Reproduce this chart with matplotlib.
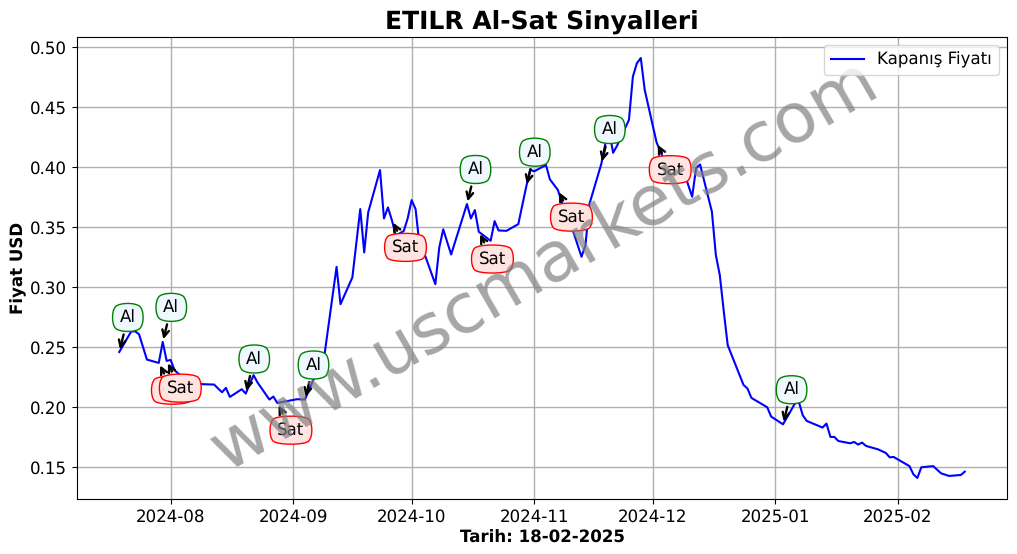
import matplotlib
matplotlib.use("Agg")
import matplotlib.pyplot as plt
import matplotlib.dates as mdates
from matplotlib.patches import BoxStyle
import pandas as pd

plt.rcParams["text.hinting"] = "none"

dates = ["2024-07-19","2024-07-22","2024-07-23","2024-07-24","2024-07-26","2024-07-29","2024-07-30","2024-07-31",
         "2024-08-01","2024-08-02","2024-08-05","2024-08-08","2024-08-09","2024-08-12","2024-08-14","2024-08-15",
         "2024-08-16","2024-08-19","2024-08-20","2024-08-22","2024-08-23","2024-08-26","2024-08-27","2024-08-28",
         "2024-09-02","2024-09-04","2024-09-06","2024-09-09","2024-09-12","2024-09-13","2024-09-16","2024-09-18",
         "2024-09-19","2024-09-20","2024-09-23","2024-09-24","2024-09-25","2024-09-26","2024-09-27","2024-09-29",
         "2024-09-30","2024-10-01","2024-10-02","2024-10-03","2024-10-04","2024-10-07","2024-10-08","2024-10-09",
         "2024-10-11","2024-10-15","2024-10-16","2024-10-17","2024-10-18","2024-10-21","2024-10-22","2024-10-23",
         "2024-10-25","2024-10-28","2024-10-30","2024-10-31","2024-11-01","2024-11-04","2024-11-05","2024-11-07",
         "2024-11-08","2024-11-11","2024-11-13","2024-11-14","2024-11-15","2024-11-18","2024-11-19","2024-11-20",
         "2024-11-21","2024-11-22","2024-11-24","2024-11-25","2024-11-26","2024-11-27","2024-11-28","2024-11-29",
         "2024-12-02","2024-12-04","2024-12-09","2024-12-11","2024-12-12","2024-12-13","2024-12-16","2024-12-17",
         "2024-12-18","2024-12-19","2024-12-20","2024-12-24","2024-12-25","2024-12-26","2024-12-30","2024-12-31",
         "2025-01-03","2025-01-06","2025-01-07","2025-01-08","2025-01-09","2025-01-13","2025-01-14","2025-01-15",
         "2025-01-16","2025-01-17","2025-01-20","2025-01-21","2025-01-22","2025-01-23","2025-01-24","2025-01-27",
         "2025-01-29","2025-01-30","2025-01-31","2025-02-04","2025-02-05","2025-02-06","2025-02-07","2025-02-10",
         "2025-02-12","2025-02-14","2025-02-17","2025-02-18"]
prices = [.246,.263,.2633,.2608,.2397,.2369,.2544,.2386,
          .2394,.2308,.222,.220,.2192,.2189,.2125,.2161,
          .2086,.215,.2114,.2267,.2206,.2064,.2089,.2036,
          .2067,.2064,.2219,.245,.3169,.2858,.3081,.365,
          .3289,.3622,.3975,.3572,.3664,.3558,.343,.3467,
          .3572,.3725,.365,.335,.330,.3025,.3331,.3481,
          .3272,.3692,.3572,.3642,.3461,.3386,.355,.3472,
          .3469,.3525,.3836,.398,.3964,.4017,.3897,.381,
          .3711,.3453,.3253,.335,.3692,.4025,.4192,.43,
          .4119,.4178,.4322,.4392,.4753,.4864,.4908,.4642,
          .4205,.405,.395,.3753,.3989,.4022,.3628,.3267,
          .31,.28,.2517,.2186,.2156,.2078,.20,.1922,
          .1858,.203,.2045,.1933,.1886,.1831,.1864,.1753,
          .1753,.1719,.17,.1711,.1689,.1706,.1678,.165,
          .162,.1583,.1586,.151,.1442,.1411,.15,.151,
          .145,.1428,.1436,.1464]

buy_dates = ["2024-07-19","2024-07-30","2024-08-20","2024-09-04","2024-10-15","2024-10-30","2024-11-18","2025-01-03"]
sell_dates = ["2024-07-29","2024-07-31","2024-08-28","2024-09-26","2024-10-18","2024-11-07","2024-12-02"]

title = "ETILR Al-Sat Sinyalleri"
xlabel = "Tarih: 18-02-2025"
ylabel = "Fiyat USD"
series_label = "Kapanış Fiyatı"
watermark = "www.uscmarkets.com"

series = pd.Series(prices, index=pd.to_datetime(dates))


def flat_round_box(x0, y0, width, height, mutation_size):
    """Round4 box whose height ignores most of the text descent."""
    cut = 0.09 * mutation_size
    return BoxStyle.Round4(pad=0.5, rounding_size=0.25)(x0, y0 + cut, width, height - 2 * cut, mutation_size)


fig, ax = plt.subplots(figsize=(10.17, 5.54), dpi=100)
fig.subplots_adjust(left=0.0757, right=0.9902, top=0.9332, bottom=0.0993)

ax.plot(series.index, series.values, color="blue", lw=1.5, label=series_label)

for d in buy_dates:
    t = pd.Timestamp(d)
    ax.annotate("Al", xy=(t, series[t]), xytext=(0.4, 21.5), textcoords="offset points", fontsize=12,
                arrowprops=dict(arrowstyle="->", color="black", lw=1.7),
                bbox=dict(boxstyle=flat_round_box, facecolor="aliceblue", edgecolor="green"))
for d in sell_dates:
    t = pd.Timestamp(d)
    ax.annotate("Sat", xy=(t, series[t]), xytext=(0, -23), textcoords="offset points", fontsize=12,
                arrowprops=dict(arrowstyle="->", color="black", lw=1.7),
                bbox=dict(boxstyle=flat_round_box, facecolor="mistyrose", edgecolor="red"))

ax.text(0.502, 0.505, watermark, transform=ax.transAxes, fontsize=50, color="gray", alpha=0.7,
        ha="center", va="center", rotation=30, zorder=5)

ax.set_title(title, fontsize=18, fontweight="bold")
ax.set_xlabel(xlabel, fontsize=12, fontweight="bold", labelpad=3.5)
ax.set_ylabel(ylabel, fontsize=12, fontweight="bold", labelpad=2)
ax.xaxis.set_major_locator(mdates.MonthLocator())
ax.xaxis.set_major_formatter(mdates.DateFormatter("%Y-%m"))
ax.tick_params(labelsize=12)
ax.grid(True, color="#b0b0b0", lw=1.0)
ax.legend(loc="upper right", fontsize=12)

fig.savefig("out.png", dpi=100)
